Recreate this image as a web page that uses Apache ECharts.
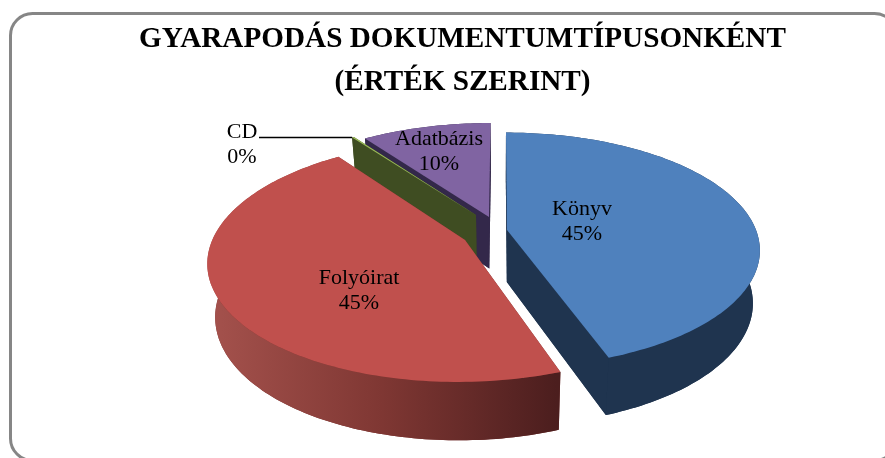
<!DOCTYPE html>
<html><head><meta charset="utf-8">
<style>html,body{margin:0;padding:0;background:#fff}#c{width:885px;height:458px}</style>
<script src="https://cdn.jsdelivr.net/npm/echarts@6/dist/echarts.min.js"></script>
</head><body><div id="c"></div>
<script>
const categories = ['Könyv', 'Folyóirat', 'CD', 'Adatbázis'];
const values = [44.5, 45.45, 0.15, 9.9];
const percentLabels = ['45%', '45%', '0%', '10%'];
const titleLines = ['GYARAPODÁS DOKUMENTUMTÍPUSONKÉNT', '(ÉRTÉK SZERINT)'];

// appearance and layout, kept apart from the data
const topColors = ['#4F81BD', '#C0504D', '#9BBB59', '#8064A2'];
const wallColors = ['#1F344F', '#7A3330', '#3F4D22', '#33284A'];
const apexes = [[507, 230], [465, 240], [476, 215], [489, 217]];
const labelCentres = [[582, 222], [359, 291], [242, 145], [439, 152]];
const VX = 500, VY = 230, R = 249, S = 114, K = 0.17, DEPTH = 52, XF = 0.973, YF = 1.042;

const total = values.reduce((a, b) => a + b, 0);
function project(theta, apex, bottom) {
  // perspective projection of a slice rim point, exploded in the pie's own plane
  const t = (apex[1] - VY) / S, oy = t / (1 + K * t), ox = (apex[0] - VX) * (1 - K * oy);
  const X = Math.sin(theta), Y = -Math.cos(theta) + oy, d = 1 - K * Y;
  let dx = (ox + R * X) / d, dy = S * Y / d;
  if (bottom) { dx *= XF; dy = dy * YF + DEPTH; }
  return [VX + dx, VY + dy];
}
function arc(a0, a1, apex, bottom) {
  const n = Math.max(2, Math.ceil((a1 - a0) / 0.02)), pts = [];
  for (let i = 0; i <= n; i++) pts.push(project(a0 + (a1 - a0) * i / n, apex, bottom));
  return pts;
}
function renderSlice(params, api) {
  const i = api.value(1), v = api.value(0);
  let before = 0;
  for (let k = 0; k < i; k++) before += values[k];
  const a0 = before / total * 2 * Math.PI, a1 = (before + v) / total * 2 * Math.PI;
  const apex = apexes[i];
  const low = [VX + (apex[0] - VX) * XF, VY + (apex[1] - VY) * YF + DEPTH];
  const topArc = arc(a0, a1, apex, false), lowArc = arc(a0, a1, apex, true);
  const wall = i === 1
    ? new echarts.graphic.LinearGradient(208, 0, 556, 0, [
        { offset: 0, color: '#A5524D' }, { offset: 0.5, color: '#7F3733' }, { offset: 1, color: '#4C1E1E' }], true)
    : wallColors[i];
  const poly = (points, fill) => ({ type: 'polygon', shape: { points }, style: { fill } });
  const children = [
    poly([low].concat(lowArc), wallColors[i]),
    poly([apex, topArc[0], lowArc[0], low], wallColors[i]),
    poly([apex, topArc[topArc.length - 1], lowArc[lowArc.length - 1], low], wallColors[i]),
    poly(topArc.concat(lowArc.slice().reverse()), wall),
    poly([apex].concat(topArc), topColors[i]),
    { type: 'text', z2: 50, style: {
        text: categories[i] + '\n' + percentLabels[i],
        x: labelCentres[i][0], y: labelCentres[i][1], align: 'center', verticalAlign: 'middle',
        font: '22px "Liberation Serif"', lineHeight: 25, fill: '#000' } }
  ];
  if (categories[i] === 'CD') {
    const tip = topArc[0];
    children.push({ type: 'line', shape: { x1: 259, y1: tip[1], x2: tip[0], y2: tip[1] },
      style: { stroke: '#000', lineWidth: 1.5 } });
  }
  return { type: 'group', children };
}
const chart = echarts.init(document.getElementById('c'), null, { renderer: 'canvas' });
chart.setOption({
  animation: false,
  backgroundColor: '#fff',
  title: { text: titleLines.join('\n'), left: 457.5, top: 13, textAlign: 'center',
    textStyle: { fontFamily: '"Liberation Serif"', fontWeight: 'bold', fontSize: 29.2, lineHeight: 43, color: '#000' } },
  graphic: [{ type: 'rect', silent: true, shape: { x: 10.5, y: 13.5, width: 886, height: 447, r: 22 },
    style: { fill: 'none', stroke: '#868686', lineWidth: 3 } }],
  series: [{ type: 'custom', coordinateSystem: 'none', renderItem: renderSlice, silent: true,
    data: values.map((v, i) => [v, i]).reverse() }]
});
</script></body></html>
